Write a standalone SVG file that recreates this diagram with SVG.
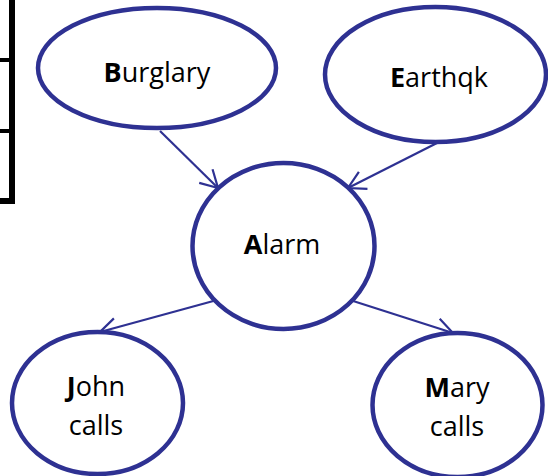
<svg xmlns="http://www.w3.org/2000/svg" width="548" height="476" viewBox="0 0 548 476">
<style>
.node{fill:#fff;stroke:#2E3192;stroke-width:4.5}
.lbl{font-family:"Open Sans","Noto Sans",sans-serif;font-size:27px;fill:#000;text-anchor:middle}
.lbl tspan.b{font-weight:bold}
.edge{stroke:#2E3192;stroke-width:2.2;fill:none}
</style>
<defs>
<marker id="arr" markerUnits="userSpaceOnUse" markerWidth="30" markerHeight="30" viewBox="-20 -15 24 30" refX="0" refY="0" orient="auto">
<path d="M-17,-9.5 L0,0 L-17,9.5" fill="none" stroke="#2E3192" stroke-width="2.2" stroke-linejoin="miter"/>
</marker>
</defs>
<rect width="548" height="476" fill="#fff"/>
<g id="table">
<rect x="9" y="0" width="6" height="204" fill="#000"/>
<rect x="0" y="58" width="12" height="4" fill="#000"/>
<rect x="0" y="129" width="12" height="4" fill="#000"/>
<rect x="0" y="198" width="15" height="6" fill="#000"/>
</g>
<g id="connectors">
<line class="edge" x1="160" y1="131" x2="218" y2="188" marker-end="url(#arr)"/>
<line class="edge" x1="437" y1="143" x2="348" y2="188" marker-end="url(#arr)"/>
<line class="edge" x1="217" y1="300" x2="100" y2="332" marker-end="url(#arr)"/>
<line class="edge" x1="350" y1="300" x2="453" y2="333" marker-end="url(#arr)"/>
</g>
<g id="burglary">
<ellipse class="node" cx="157" cy="68" rx="119" ry="60"/>
<text class="lbl" x="157" y="82"><tspan class="b">B</tspan>urglary</text>
</g>
<g id="earthqk">
<ellipse class="node" cx="435.5" cy="74.5" rx="110.5" ry="67.5"/>
<text class="lbl" x="439" y="86.5"><tspan class="b">E</tspan>arthqk</text>
</g>
<g id="alarm">
<ellipse class="node" cx="283.5" cy="246" rx="91" ry="83"/>
<text class="lbl" x="282" y="254"><tspan class="b">A</tspan>larm</text>
</g>
<g id="john">
<ellipse class="node" cx="97.5" cy="403" rx="85.5" ry="71"/>
<text class="lbl" x="96" y="396"><tspan class="b">J</tspan>ohn</text>
<text class="lbl" x="96" y="435">calls</text>
</g>
<g id="mary">
<ellipse class="node" cx="457.5" cy="405" rx="85" ry="72"/>
<text class="lbl" x="457" y="397"><tspan class="b">M</tspan>ary</text>
<text class="lbl" x="457" y="436">calls</text>
</g>
</svg>
